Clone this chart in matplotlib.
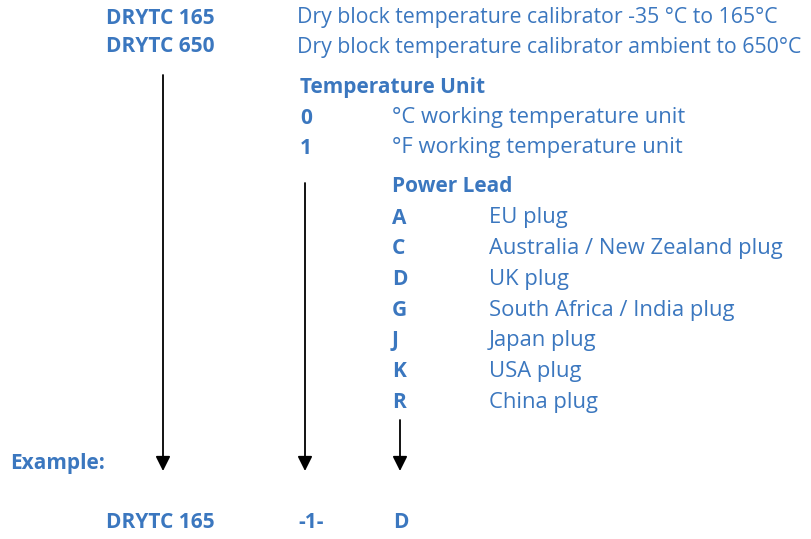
import matplotlib.pyplot as plt

# ordering code diagram content
models = ["DRYTC 165", "DRYTC 650"]
model_desc = ["Dry block temperature calibrator -35 °C to 165°C",
              "Dry block temperature calibrator ambient to 650°C"]
unit_codes = ["0", "1"]
unit_desc = ["°C working temperature unit", "°F working temperature unit"]
lead_codes = ["A", "C", "D", "G", "J", "K", "R"]
lead_desc = ["EU plug", "Australia / New Zealand plug", "UK plug",
             "South Africa / India plug", "Japan plug", "USA plug", "China plug"]
example = ["DRYTC 165", "-1-", "D"]

blue = "#3b77bf"
plt.rcParams["font.family"] = ["Open Sans", "DejaVu Sans"]

fig = plt.figure(figsize=(8.11, 5.39), dpi=100)
ax = fig.add_axes([0, 0, 1, 1])
ax.set_xlim(0, 811)
ax.set_ylim(539, 0)
ax.axis("off")


def txt(x, y, s, bold=False, size=None):
    if size is None:
        size = 15 if bold else 15.8
    ax.text(x, y, s, color=blue, fontsize=size, va="center", ha="left",
            fontweight="bold" if bold else "normal")


# models
for i, (m, d) in enumerate(zip(models, model_desc)):
    y = 18 + i * 29
    txt(106, y, m, bold=True)
    txt(297, y, d, size=15.3)

# temperature unit
txt(300, 87, "Temperature Unit", bold=True)
for i, (c, d) in enumerate(zip(unit_codes, unit_desc)):
    y = 118 + i * 30
    txt(300, y, c, bold=True)
    txt(392, y, d)

# power lead
txt(392, 187, "Power Lead", bold=True)
for i, (c, d) in enumerate(zip(lead_codes, lead_desc)):
    y = 218 + i * 30.7
    txt(392, y, c, bold=True)
    txt(489, y, d)

# arrows
for x, y0 in [(163, 75), (305, 183), (400, 420)]:
    ax.annotate("", xy=(x, 471), xytext=(x, y0),
                arrowprops=dict(arrowstyle="-|>", color="black", lw=1.3,
                                mutation_scale=22, shrinkA=0, shrinkB=0))

# example
txt(10, 464, "Example:", bold=True)
for x, s in zip([106, 298, 393], example):
    txt(x, 523, s, bold=True)

fig.savefig("out.png", dpi=100, facecolor="white")
